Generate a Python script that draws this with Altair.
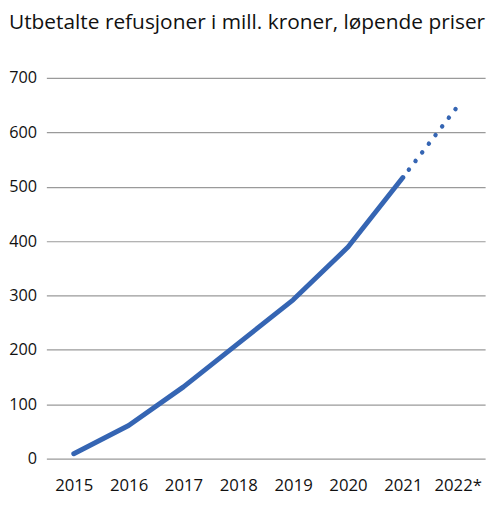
import altair as alt
import pandas as pd

# data
years = ["2015", "2016", "2017", "2018", "2019", "2020", "2021", "2022*"]
values = [9, 61, 132, 212, 292, 389, 517, 648]

df = pd.DataFrame({"year": years, "value": values})
solid = df.iloc[:7]
dotted = df.iloc[6:]

blue = "#3565b3"
font = "Open Sans"

x = alt.X("year:O", sort=years, title=None,
          scale=alt.Scale(type="point", padding=0.5),
          axis=alt.Axis(labelAngle=0, domain=False, ticks=False, grid=False,
                        labelPadding=19, labelFontSize=17, labelColor="#111",
                        labelFont=font))
y = alt.Y("value:Q", title=None,
          scale=alt.Scale(domain=[0, 700], nice=False),
          axis=alt.Axis(values=[0, 100, 200, 300, 400, 500, 600, 700],
                        domain=False, ticks=False, labelPadding=10,
                        labelFontSize=16.5, labelColor="#111", labelFont=font,
                        gridColor="#9a9a9a", gridWidth=1.2))

# actual figures
line_solid = alt.Chart(solid).mark_line(
    color=blue, strokeWidth=5, strokeCap="round", strokeJoin="round"
).encode(x=x, y=y)

# estimate for 2022
line_dotted = alt.Chart(dotted).mark_line(
    color=blue, strokeWidth=4.5, strokeCap="round", strokeDash=[0.1, 11],
    strokeDashOffset=-10
).encode(x=x, y=y)

chart = alt.layer(line_solid, line_dotted).properties(
    width=446,
    height=387,
    autosize=alt.AutoSizeParams(type="none"),
    padding={"left": 39, "top": 67, "right": 7, "bottom": 43},
    title=alt.TitleParams(
        "Utbetalte refusjoner i mill. kroner, løpende priser",
        anchor="start", frame="group", dx=-38, offset=38, fontSize=21.2,
        font=font, fontWeight="normal", color="#111"
    )
).configure_view(stroke=None)

chart.save("out.html", embed_options={"renderer": "svg", "actions": False})
